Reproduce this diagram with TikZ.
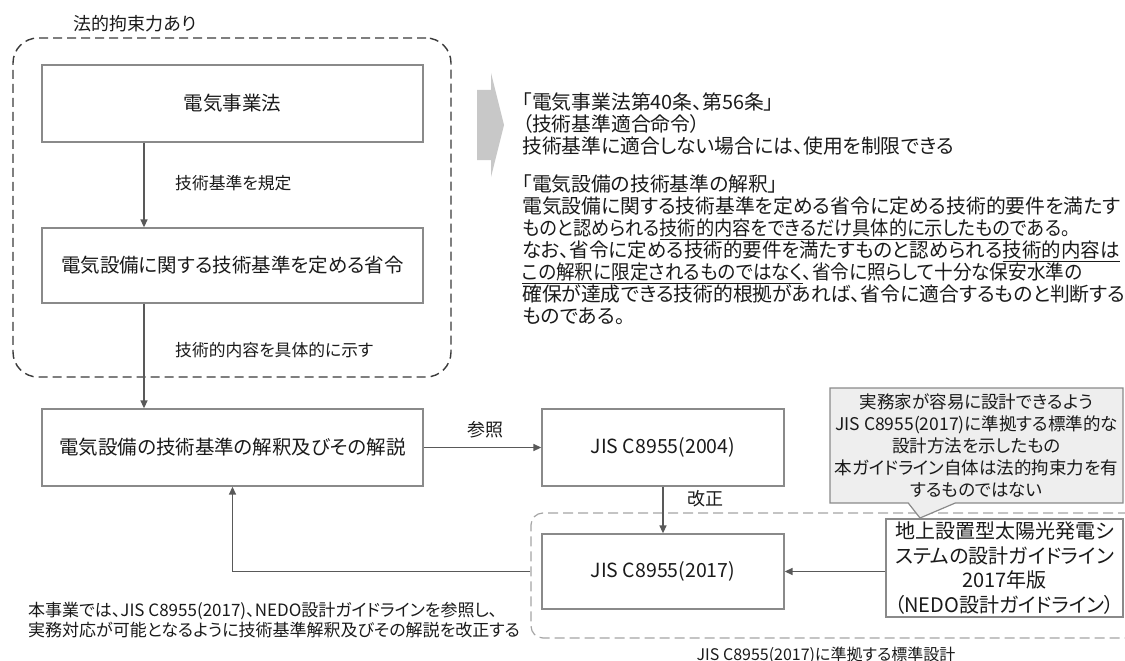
\documentclass[tikz,border=0pt]{standalone}
\usepackage{graphicx}
\usepackage{fontspec}
\setmainfont{Noto Sans CJK JP}[RawFeature=+palt]
\usetikzlibrary{arrows.meta,shapes.callouts}
\definecolor{boxgray}{HTML}{8A8A8A}
\definecolor{arrgray}{HTML}{595959}
\definecolor{legaldash}{HTML}{3A3A3A}
\definecolor{grpdash}{HTML}{A5A5A5}
\definecolor{notefill}{HTML}{EEEEEE}
\definecolor{bigarrow}{HTML}{C8C8C8}
\definecolor{txt}{HTML}{1A1A1A}
\newcommand\setfs[2]{\fontsize{#1pt}{#2pt}\selectfont}
\newcommand\ulx[1]{\smash{\underline{#1}}}
\begin{document}
\begin{tikzpicture}[x=1pt,y=-1pt,
  box/.style={draw=boxgray, line width=1.3pt, fill=white, inner sep=0pt, text=txt, font=\setfs{19.5}{23}},
  legal/.style={draw=legaldash, line width=1.4pt, dash pattern=on 9pt off 5pt, rounded corners=25pt, inner sep=0pt},
  grp/.style={draw=grpdash, line width=1.2pt, dash pattern=on 10pt off 5pt, rounded corners=12pt, inner sep=0pt},
  arr/.style={draw=arrgray, line width=1.4pt, -{Triangle[length=8pt,width=7pt]}},
  lbl/.style={inner sep=0pt, text=txt, font=\setfs{16.8}{20}},
  lblb/.style={inner sep=0pt, text=txt, font=\setfs{18}{20}},
  para/.style={inner sep=0pt, text=txt, align=left, font=\setfs{19.8}{22}},
  notebox/.style={rectangle callout, draw=boxgray, fill=notefill, line width=1.2pt, inner sep=0pt, align=center, text=txt, font=\setfs{17.5}{22}}
]
\useasboundingbox (0,0) rectangle (1125,661);
\clip (0,0) rectangle (1125,661);

% legal frame
\node[legal, minimum width=438pt, minimum height=339pt] (legal) at (232,207.5) {};
\node[lblb] (legaltitle) at (135,24) {法的拘束力あり};

% left column boxes
\node[box, minimum width=381pt, minimum height=77pt] (law) at (232.5,103.5) {電気事業法};
\node[box, minimum width=381pt, minimum height=75pt] (ord) at (232.5,265.5) {電気設備に関する技術基準を定める省令};
\node[box, minimum width=381pt, minimum height=77pt] (interp) at (232.5,447.5) {電気設備の技術基準の解釈及びその解説};

\draw[arr] ([xshift=-88.5pt]law.south) -- ([xshift=-88.5pt]ord.north);
\node[lbl, anchor=west] (l1) at (175,183) {技術基準を規定};
\draw[arr] ([xshift=-88.5pt]ord.south) -- ([xshift=-88.5pt]interp.north);
\node[lbl, anchor=west] (l2) at (175,350) {技術的内容を具体的に示す};

% big gray arrow
\fill[bigarrow] (477,90) -- (491,90) -- (491,73) -- (504,125) -- (491,177) -- (491,160) -- (477,160) -- cycle;

% right text
\node[para, anchor=north west] (lawtext) at (522,93) {%
「電気事業法第40条、第56条」\\
（技術基準適合命令）\\
技術基準に適合しない場合には、使用を制限できる};
\node[para, anchor=north west] (interptext) at (522,175) {%
「電気設備の技術基準の解釈」\\
電気設備に関する技術基準を定める省令に定める技術的要件を満たす\\
\scalebox{0.92}[1]{ものと認められる\ulx{技術的内容をできるだけ具体的に示したもの}である。}\\
\scalebox{0.985}[1]{なお、省令に定める技術的要件を満たすものと認められる\ulx{技術的内容は}}\\
\scalebox{0.94}[1]{\ulx{この解釈に限定されるものではなく}、省令に照らして十分な保安水準の}\\
確保が達成できる技術的根拠があれば、省令に適合するものと判断する\\
ものである。};

% group of standard design
\node[grp, minimum width=609pt, minimum height=125pt] (grp) at (835.5,575.5) {};
\node[lbl, font=\setfs{16}{20}] (grplabel) at (826,655) {JIS C8955(2017)に準拠する標準設計};

% JIS boxes
\node[box, minimum width=242pt, minimum height=77pt] (j04) at (663,447.5) {JIS C8955(2004)};
\node[box, minimum width=242pt, minimum height=75pt] (j17) at (663,571.5) {JIS C8955(2017)};

\draw[arr] (interp.east) -- (j04.west);
\node[lblb] (ref) at (485,430) {参照};
\draw[arr] (j04.south) -- (j17.north);
\node[lblb] (rev) at (705,499) {改正};

% callout note
\node[notebox, callout absolute pointer={(920,518)}, callout pointer width=47pt,
      minimum width=293pt, minimum height=115pt] (note) at (976.5,445.5) {%
実務家が容易に設計できるよう\\
JIS C8955(2017)に準拠する標準的な\\
設計方法を示したもの\\
本ガイドライン自体は法的拘束力を有\\
するものではない};

% NEDO box
\node[box, minimum width=237pt, minimum height=98pt, align=center, font=\setfs{20}{24.5}] (nedo) at (1004.5,568) {%
地上設置型太陽光発電シ\\
ステムの設計ガイドライン\\
2017年版\\
（NEDO設計ガイドライン）};

\draw[arr] (nedo.west |- j17.east) -- (j17.east);

% feedback to interpretation
\draw[arr] (grp.west |- j17.west) -- (interp.south |- j17.west) -- (interp.south);

% bottom-left note
\node[inner sep=0pt, anchor=north west, align=left, text=txt, font=\setfs{17}{20}] (project) at (28,601.5) {%
本事業では、JIS C8955(2017)、NEDO設計ガイドラインを参照し、\\
実務対応が可能となるように技術基準解釈及びその解説を改正する};
\end{tikzpicture}
\end{document}
